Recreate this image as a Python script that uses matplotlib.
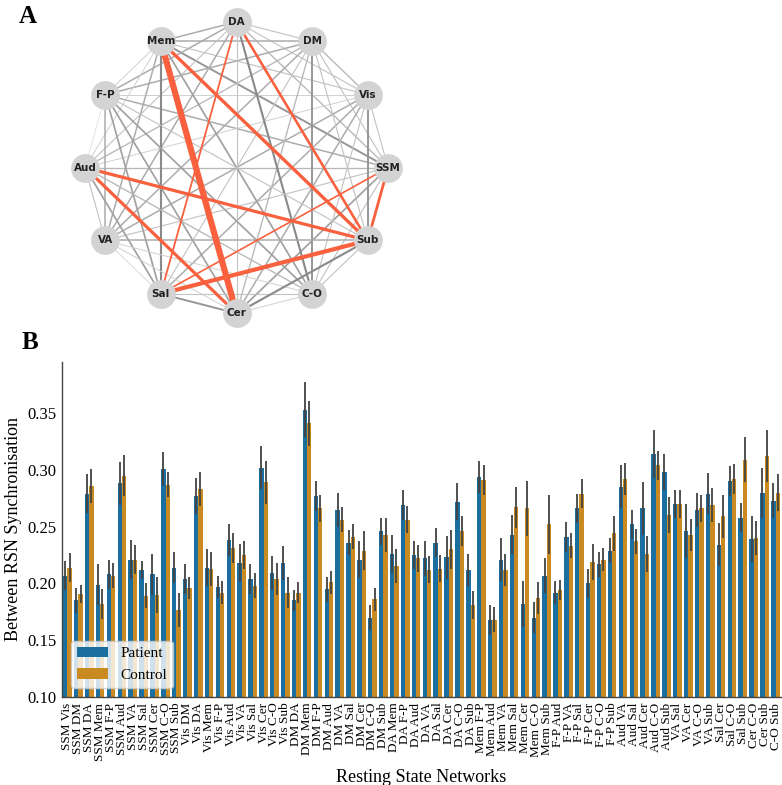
import itertools

import matplotlib
matplotlib.use("Agg")
import matplotlib.pyplot as plt
import numpy as np

plt.rcParams["font.family"] = ["Liberation Serif", "DejaVu Serif"]

# resting state networks (order around the circle, counter-clockwise from 3 o'clock)
networks = ["SSM", "Vis", "DM", "DA", "Mem", "F-P", "Aud", "VA", "Sal", "Cer", "C-O", "Sub"]
pairs = list(itertools.combinations(networks, 2))
pair_labels = [a + " " + b for a, b in pairs]

patient = [0.207, 0.185, 0.279, 0.199, 0.208, 0.288, 0.221, 0.212, 0.208, 0.301, 0.214,
           0.204, 0.277, 0.214, 0.197, 0.238, 0.218, 0.204, 0.302, 0.209, 0.218,
           0.185, 0.353, 0.277, 0.195, 0.265, 0.236, 0.221, 0.170, 0.246,
           0.226, 0.269, 0.225, 0.222, 0.236, 0.223, 0.272, 0.212,
           0.294, 0.168, 0.221, 0.243, 0.182, 0.170, 0.207,
           0.192, 0.241, 0.266, 0.200, 0.217, 0.229,
           0.285, 0.252, 0.266, 0.314, 0.298,
           0.270, 0.246, 0.265, 0.279,
           0.234, 0.290, 0.258,
           0.239, 0.280,
           0.273]
control = [0.214, 0.191, 0.286, 0.182, 0.207, 0.295, 0.221, 0.189, 0.190, 0.287, 0.177,
           0.196, 0.283, 0.213, 0.192, 0.231, 0.225, 0.198, 0.289, 0.204, 0.192,
           0.192, 0.341, 0.266, 0.201, 0.256, 0.241, 0.229, 0.186, 0.243,
           0.215, 0.256, 0.222, 0.212, 0.213, 0.230, 0.246, 0.181,
           0.291, 0.168, 0.212, 0.267, 0.266, 0.187, 0.252,
           0.194, 0.233, 0.279, 0.219, 0.221, 0.244,
           0.292, 0.237, 0.226, 0.304, 0.260,
           0.270, 0.243, 0.266, 0.269,
           0.259, 0.292, 0.309,
           0.240, 0.312,
           0.280]
patient_err = [0.013, 0.011, 0.017, 0.018, 0.013, 0.019, 0.017, 0.008, 0.018, 0.015, 0.014,
               0.013, 0.016, 0.016, 0.010, 0.014, 0.017, 0.013, 0.019, 0.015, 0.015,
               0.009, 0.024, 0.013, 0.011, 0.015, 0.011, 0.016, 0.011, 0.012,
               0.017, 0.013, 0.012, 0.015, 0.013, 0.019, 0.016, 0.014,
               0.014, 0.013, 0.019, 0.017, 0.020, 0.014, 0.015,
               0.010, 0.013, 0.013, 0.013, 0.011, 0.011,
               0.019, 0.013, 0.023, 0.021, 0.016,
               0.012, 0.024, 0.015, 0.018,
               0.019, 0.013, 0.013,
               0.020, 0.022,
               0.015]
control_err = [0.013, 0.008, 0.015, 0.013, 0.011, 0.018, 0.013, 0.011, 0.016, 0.011, 0.015,
               0.010, 0.015, 0.015, 0.010, 0.013, 0.012, 0.011, 0.019, 0.014, 0.014,
               0.009, 0.020, 0.012, 0.010, 0.011, 0.011, 0.017, 0.010, 0.015,
               0.015, 0.012, 0.012, 0.012, 0.012, 0.017, 0.013, 0.012,
               0.013, 0.011, 0.014, 0.018, 0.024, 0.014, 0.026,
               0.009, 0.011, 0.013, 0.016, 0.010, 0.015,
               0.014, 0.011, 0.016, 0.013, 0.016,
               0.012, 0.014, 0.012, 0.015,
               0.019, 0.013, 0.020,
               0.015, 0.023,
               0.016]

# panel A: edge strength per pair (same order as pair_labels) and significant pairs
edge_strength = [0.30, 0.30, 0.40, 0.70, 0.50, 0.40, 0.30, 0.57, 0.60, 0.30, 1.14,
                 0.40, 0.30, 0.30, 0.20, 0.20, 0.50, 0.50, 0.50, 0.30, 0.70,
                 0.30, 0.50, 0.50, 0.40, 0.50, 0.30, 0.40, 0.70, 0.30,
                 0.50, 0.50, 0.30, 0.50, 0.64, 0.30, 0.80, 1.07,
                 0.20, 0.20, 0.50, 0.80, 2.90, 0.60, 1.43,
                 0.10, 0.50, 0.60, 0.60, 0.60, 0.30,
                 0.30, 0.60, 1.36, 0.40, 1.36,
                 0.15, 0.20, 0.20, 0.50,
                 0.70, 0.30, 1.86,
                 0.20, 0.80,
                 0.30]
significant = ["SSM Sal", "SSM Sub", "DA Sal", "DA Sub", "Mem Cer", "Mem Sub",
               "Aud Cer", "Aud Sub", "Sal Sub"]

fig = plt.figure(figsize=(7.82, 7.85), dpi=100)

# ---------------- panel A: network graph ----------------
axA = fig.add_axes([0.07, 0.573, 0.465, 0.427])
angles = 2 * np.pi * np.arange(len(networks)) / len(networks)
pos = {n: (np.cos(a), np.sin(a)) for n, a in zip(networks, angles)}

for (a, b), lab, w in zip(pairs, pair_labels, edge_strength):
    xa, ya = pos[a]
    xb, yb = pos[b]
    if lab in significant:
        axA.plot([xa, xb], [ya, yb], color="#f9603e", lw=0.4 + 1.4 * w,
                 solid_capstyle="butt", zorder=3)
    else:
        g = 0.9 - 0.45 * w
        axA.plot([xa, xb], [ya, yb], color=(g, g, g), lw=0.4 + 1.4 * w,
                 solid_capstyle="butt", zorder=2)

xs = [pos[n][0] for n in networks]
ys = [pos[n][1] for n in networks]
axA.scatter(xs, ys, s=430, color="#d3d3d3", zorder=4, linewidths=0)
for n in networks:
    axA.text(pos[n][0], pos[n][1], n, ha="center", va="center", fontsize=7.5,
             fontweight="bold", family="DejaVu Sans", color="#222222", zorder=5)
axA.set_xlim(-1.2, 1.2)
axA.set_ylim(-1.15, 1.15)
axA.axis("off")

fig.text(0.035, 0.979, "A", fontsize=18, fontweight="bold", ha="center", va="center")
fig.text(0.038, 0.564, "B", fontsize=18, fontweight="bold", ha="center", va="center")

# ---------------- panel B: bar chart ----------------
axB = fig.add_axes([0.0793, 0.112, 0.9194, 0.427])
x = np.arange(len(pair_labels))
bw = 0.4
axB.bar(x - bw / 2, patient, bw, color="#1a6fa0", label="Patient", zorder=2)
axB.bar(x + bw / 2, control, bw, color="#c98a22", label="Control", zorder=2)
axB.errorbar(x - bw / 2, patient, yerr=patient_err, fmt="none", ecolor="#424242",
             elinewidth=1.3, capsize=0, zorder=3)
axB.errorbar(x + bw / 2, control, yerr=control_err, fmt="none", ecolor="#424242",
             elinewidth=1.3, capsize=0, zorder=3)

axB.set_xlim(-0.5, len(pair_labels) - 0.5)
axB.set_ylim(0.1, 0.395)
axB.set_yticks([0.10, 0.15, 0.20, 0.25, 0.30, 0.35])
axB.set_yticklabels(["0.10", "0.15", "0.20", "0.25", "0.30", "0.35"], fontsize=12)
axB.set_xticks(x)
axB.set_xticklabels(pair_labels, rotation=90, fontsize=9.5)
axB.tick_params(length=0, pad=4)
for side in ["top", "right"]:
    axB.spines[side].set_visible(False)
for side in ["left", "bottom"]:
    axB.spines[side].set_color("#444444")
    axB.spines[side].set_linewidth(1.0)
axB.set_ylabel("Between RSN Synchronisation", fontsize=13)
axB.set_xlabel("Resting State Networks", fontsize=13, labelpad=6)
axB.legend(loc="lower left", fontsize=11, frameon=True, borderaxespad=0.6)

fig.savefig("out.png", dpi=100)
